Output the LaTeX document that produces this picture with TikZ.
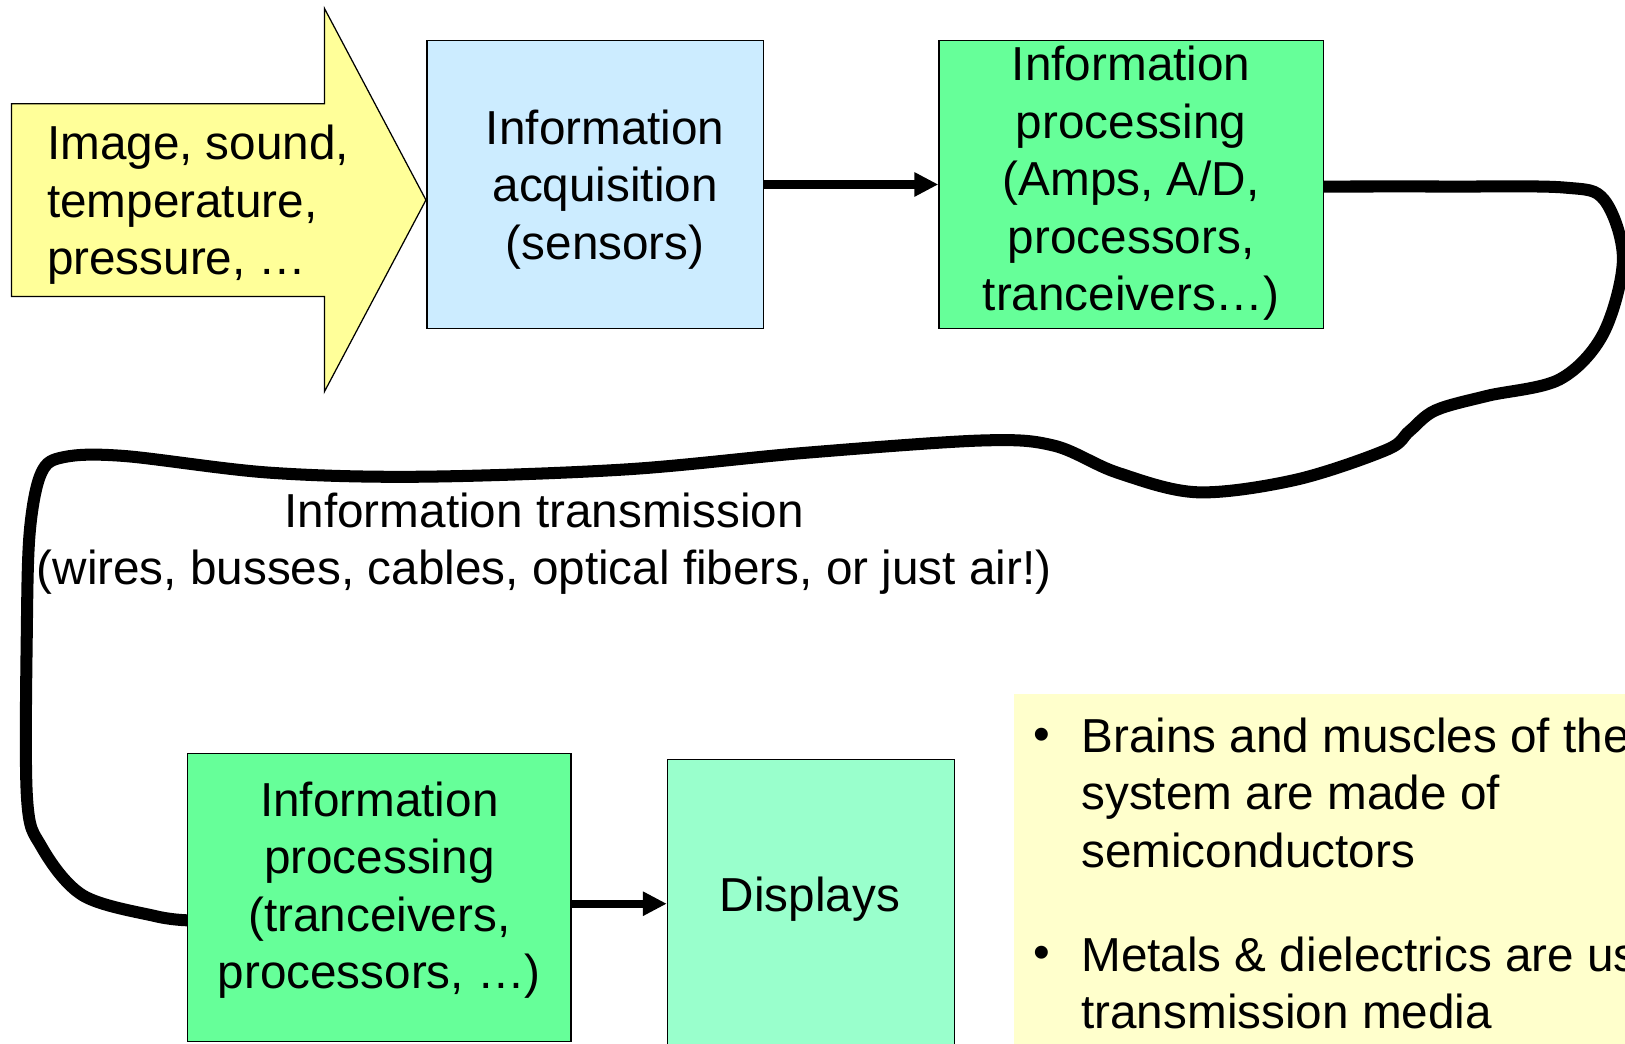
\documentclass[tikz,border=0pt]{standalone}
\usepackage{fontspec}
\setmainfont{Liberation Sans}
\usetikzlibrary{arrows.meta}
\definecolor{inyellow}{HTML}{FFFF99}
\definecolor{acqblue}{HTML}{CCECFF}
\definecolor{procgreen}{HTML}{66FF99}
\definecolor{dispgreen}{HTML}{99FFCC}
\definecolor{noteyellow}{HTML}{FFFFCC}
\begin{document}
\begin{tikzpicture}[x=0.5pt,y=-0.5pt,
  box/.style={draw=black, line width=0.6pt, inner sep=0pt},
  txt/.style={font=\fontsize{23}{27.75}\selectfont, inner sep=0pt, align=center},
  ltxt/.style={font=\fontsize{23}{27.75}\selectfont, inner sep=0pt, align=left, anchor=west},
  arr/.style={line width=4pt, -{Triangle[length=11.5pt,width=11pt]}},
  wire/.style={line width=5.8pt, line join=round}
]
\useasboundingbox (0,0) rectangle (1568,1007);
\clip (0,0) rectangle (1568,1007);

% note background
\fill[noteyellow] (978,670) rectangle (1620,1060);

% input arrow
\filldraw[fill=inyellow, draw=black, line width=0.6pt]
  (11,100) -- (313,100) -- (313,8) -- (411,193) -- (313,378) -- (313,286) -- (11,286) -- cycle;
\node[ltxt] (inp) at (45,197.5) {Image, sound,\\temperature,\\pressure, …};

% boxes
\node[box, fill=acqblue, minimum width=162.5pt, minimum height=139pt] (acq) at (574.5,178) {};
\node[txt] (acqt) at (584,183) {Information\\acquisition\\(sensors)};

\node[box, fill=procgreen, minimum width=185.5pt, minimum height=139pt] (p1) at (1091.5,178) {};
\node[txt] (p1t) at (1091.5,177) {Information\\processing\\(Amps, A/D,\\processors,\\tranceivers…)};

\node[box, fill=procgreen, minimum width=185pt, minimum height=139pt] (p2) at (366,866) {};
\node[txt] (p2t) at (366,859) {Information\\processing\\(tranceivers,\\processors, …)};

\node[box, fill=dispgreen, minimum width=138.5pt, minimum height=139pt] (disp) at (782.5,872) {};
\node[txt] (dispt) at (781.5,868) {Displays};

% arrows
\draw[arr] (acq.east) -- (p1.west);
\draw[arr] (p2.east |- disp.west) -- (disp.west);

% transmission wire
\draw[wire] plot[smooth, tension=0.55] coordinates {
  ([yshift=-1pt]p1.east) (1400,180) (1510,181) (1548,193) (1566,250) (1547,322)
  (1505,366) (1435,382) (1385,396) (1360,416) (1338,434) (1250,463) (1155,475)
  (1078,456) (1017,430) (948,425) (776,437) (603,453) (405,460) (259,456)
  (120,440) (62,441) (40,456) (29,510) (26,600) (26,769) (40,817) (80,864)
  (150,884) ([yshift=-11pt]p2.west)};

\node[txt] (trans) at (525,524.5) {Information transmission\\(wires, busses, cables, optical fibers, or just air!)};

% note text
\node[txt] (b1) at (1005,713) {•};
\node[ltxt] (n1) at (1043,765) {Brains and muscles of the\\system are made of\\semiconductors};
\node[txt] (b2) at (1005,924) {•};
\node[ltxt] (n2) at (1043,948.5) {Metals \& dielectrics are us\\transmission media};
\end{tikzpicture}
\end{document}
